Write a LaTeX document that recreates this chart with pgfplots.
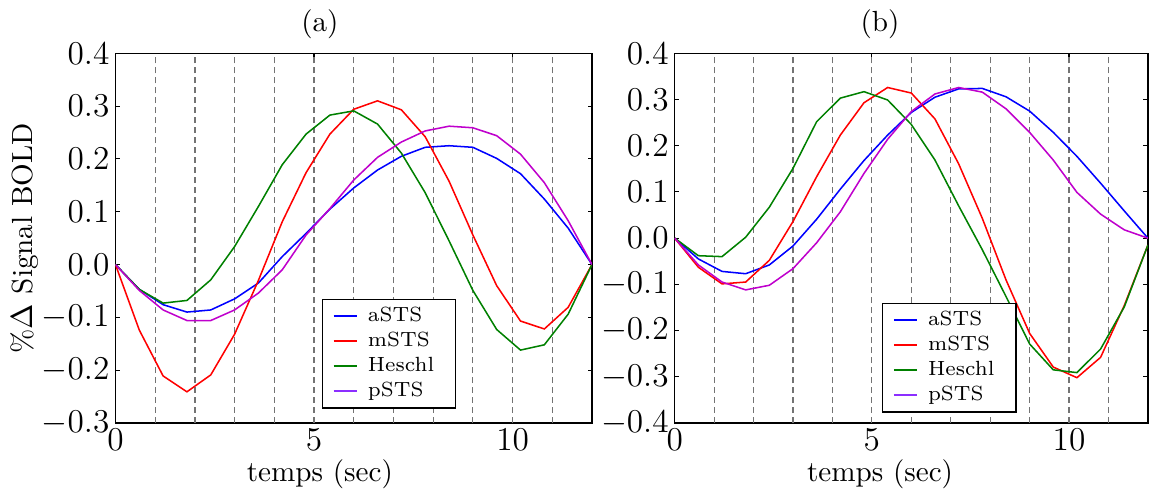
\documentclass[border=0pt]{standalone}
\usepackage{pgfplots}
\usepackage{pgfplotstable}
\pgfplotsset{compat=1.18}
\definecolor{cblue}{rgb}{0,0,1}
\definecolor{cred}{rgb}{1,0,0}
\definecolor{cgreen}{rgb}{0,0.5,0}
\definecolor{cpurp}{rgb}{0.75,0,0.8}
\definecolor{cpurpleg}{rgb}{0.55,0.18,1}

\pgfplotstableread{
x    a      m      h      p
0.0  0.000  0.000  0.000  0.000
0.6 -0.047 -0.124 -0.047 -0.049
1.2 -0.076 -0.211 -0.073 -0.086
1.8 -0.090 -0.241 -0.068 -0.106
2.4 -0.086 -0.209 -0.029 -0.106
3.0 -0.065 -0.132  0.034 -0.086
3.6 -0.035 -0.030  0.110 -0.054
4.2  0.015  0.081  0.189 -0.010
4.8  0.059  0.174  0.247  0.056
5.4  0.105  0.247  0.283  0.106
6.0  0.145  0.294  0.291  0.160
6.6  0.179  0.310  0.266  0.203
7.2  0.205  0.293  0.211  0.232
7.8  0.222  0.242  0.136  0.253
8.4  0.225  0.158  0.045  0.262
9.0  0.222  0.056 -0.049  0.259
9.6  0.201 -0.040 -0.123  0.244
10.2 0.172 -0.107 -0.162  0.209
10.8 0.124 -0.122 -0.152  0.155
11.4 0.069 -0.081 -0.094  0.083
12.0 0.000  0.000  0.000  0.000
}\tabA

\pgfplotstableread{
x    a      m      h      p
0.0  0.000  0.000  0.000  0.000
0.6 -0.045 -0.063 -0.038 -0.058
1.2 -0.072 -0.099 -0.040 -0.095
1.8 -0.077 -0.095  0.002 -0.112
2.4 -0.058 -0.048  0.067 -0.102
3.0 -0.017  0.036  0.151 -0.066
3.6  0.041  0.133  0.252 -0.010
4.2  0.106  0.223  0.303  0.057
4.8  0.168  0.293  0.317  0.140
5.4  0.223  0.326  0.299  0.214
6.0  0.272  0.314  0.246  0.274
6.6  0.305  0.258  0.169  0.312
7.2  0.323  0.161  0.070  0.326
7.8  0.324  0.043 -0.025  0.316
8.4  0.306 -0.090 -0.126  0.280
9.0  0.275 -0.206 -0.229  0.229
9.6  0.229 -0.279 -0.285  0.169
10.2 0.177 -0.302 -0.291  0.099
10.8 0.119 -0.258 -0.240  0.052
11.4 0.059 -0.146 -0.149  0.018
12.0 0.000 -0.015 -0.015  0.000
}\tabB

\pgfplotsset{
  every axis title shift=0pt,
  panel/.style={
    scale only axis, width=171.7pt, height=133.2pt,
    xmin=0, xmax=12, xtick={0,5,10},
    tick align=inside, major tick length=1.6pt,
    xtick pos=both, ytick pos=both,
    axis line style={line width=0.5pt},
    tick style={line width=0.4pt, black},
    tick label style={font=\fontsize{12.3}{14}\selectfont, inner sep=2pt},
    yticklabel style={/pgf/number format/.cd, fixed, fixed zerofill, precision=1},
    extra x ticks={1,2,3,4,5,6,7,8,9,10,11},
    extra x tick labels={},
    extra x tick style={grid=major, major tick length=0pt},
    major grid style={color=black!55, line width=0.45pt, dash pattern=on 2.3pt off 1.3pt},
    every axis plot/.append style={line width=0.55pt},
    label style={font=\fontsize{10.5}{12}\selectfont},
    title style={font=\fontsize{10.5}{12}\selectfont},
    xlabel={temps (sec)},
    legend image code/.code={\draw[#1] (0pt,0pt) -- (8.4pt,0pt);},
    legend style={font=\fontsize{7.4}{8.5}\selectfont, draw=black, line width=0.5pt,
      inner xsep=3.6pt, inner ysep=2.2pt, row sep=1.3pt, column sep=3pt,
      nodes={inner sep=0.5pt, text height=5.3pt, text depth=1.4pt},
      cells={anchor=west}},
  }
}

\begin{document}
\begin{tikzpicture}
\useasboundingbox (-41.6pt,-24.5pt) rectangle (372.4pt,152.4pt);
\begin{axis}[panel, at={(0pt,0pt)}, anchor=south west,
  ymin=-0.3, ymax=0.4, ytick={-0.3,-0.2,-0.1,0,0.1,0.2,0.3,0.4},
  title={(a)}, title style={at={(axis description cs:0.429,1.0586)}, anchor=base},
  xlabel style={at={(axis description cs:0.429,-0.157)}, anchor=base},
  ylabel={{\%}$\Delta$ Signal BOLD},
  ylabel style={at={(axis description cs:-0.1747,0.5)}, anchor=base},
  legend style={at={(rel axis cs:0.433,0.336)}, anchor=north west}]
\addplot[cblue, forget plot] table[x=x, y=a] {\tabA};
\addplot[cred, forget plot] table[x=x, y=m] {\tabA};
\addplot[cgreen, forget plot] table[x=x, y=h] {\tabA};
\addplot[cpurp, forget plot] table[x=x, y=p] {\tabA};
\addlegendimage{cblue, line width=0.85pt}
\addlegendentry{aSTS}
\addlegendimage{cred, line width=0.85pt}
\addlegendentry{mSTS}
\addlegendimage{cgreen, line width=0.85pt}
\addlegendentry{Heschl\hspace*{3.6pt}}
\addlegendimage{cpurpleg, line width=0.85pt}
\addlegendentry{pSTS}
\end{axis}
\begin{axis}[panel, at={(201.5pt,0pt)}, anchor=south west, width=170.5pt,
  ymin=-0.4, ymax=0.4, ytick={-0.4,-0.3,-0.2,-0.1,0,0.1,0.2,0.3,0.4},
  title={(b)}, title style={at={(axis description cs:0.434,1.0586)}, anchor=base},
  xlabel style={at={(axis description cs:0.434,-0.157)}, anchor=base},
  legend style={at={(rel axis cs:0.438,0.325)}, anchor=north west}]
\addplot[cblue, forget plot] table[x=x, y=a] {\tabB};
\addplot[cred, forget plot] table[x=x, y=m] {\tabB};
\addplot[cgreen, forget plot] table[x=x, y=h] {\tabB};
\addplot[cpurp, forget plot] table[x=x, y=p] {\tabB};
\addlegendimage{cblue, line width=0.85pt}
\addlegendentry{aSTS}
\addlegendimage{cred, line width=0.85pt}
\addlegendentry{mSTS}
\addlegendimage{cgreen, line width=0.85pt}
\addlegendentry{Heschl\hspace*{3.6pt}}
\addlegendimage{cpurpleg, line width=0.85pt}
\addlegendentry{pSTS}
\end{axis}
\end{tikzpicture}
\end{document}
